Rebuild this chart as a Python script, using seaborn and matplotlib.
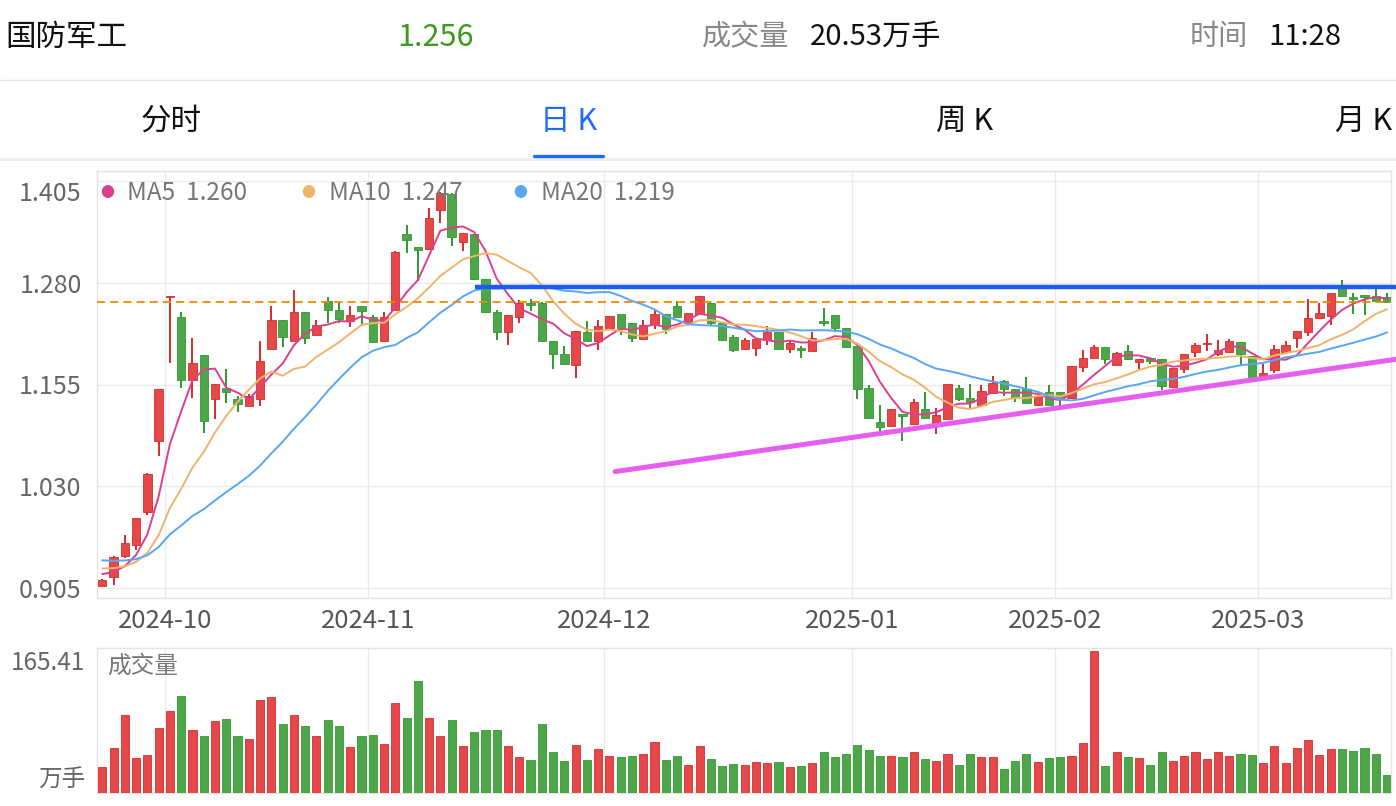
import numpy as np
import pandas as pd
import matplotlib
matplotlib.use("Agg")
import matplotlib.pyplot as plt
import seaborn as sns
from matplotlib.lines import Line2D

# daily K data, first candle = 2024-09-23
opens = [0.908, 0.918, 0.944, 0.958, 0.998, 1.086, 1.262, 1.238, 1.160, 1.191,
         1.137, 1.151, 1.137, 1.129, 1.137, 1.199, 1.234, 1.209, 1.244, 1.216,
         1.258, 1.246, 1.233, 1.251, 1.238, 1.208, 1.246, 1.340, 1.324, 1.321,
         1.369, 1.389, 1.330, 1.340, 1.285, 1.244, 1.219, 1.238, 1.255, 1.255,
         1.208, 1.193, 1.179, 1.220, 1.208, 1.224, 1.241, 1.231, 1.211, 1.229,
         1.242, 1.251, 1.231, 1.242, 1.255, 1.230, 1.213, 1.199, 1.200, 1.210,
         1.219, 1.199, 1.199, 1.196, 1.233, 1.241, 1.225, 1.202, 1.151, 1.109,
         1.104, 1.119, 1.106, 1.125, 1.107, 1.113, 1.151, 1.139, 1.130, 1.145,
         1.159, 1.150, 1.149, 1.130, 1.146, 1.146, 1.139, 1.176, 1.187, 1.201,
         1.179, 1.196, 1.183, 1.188, 1.186, 1.152, 1.174, 1.195, 1.205, 1.192,
         1.195, 1.207, 1.190, 1.163, 1.173, 1.195, 1.212, 1.219, 1.237, 1.239,
         1.274, 1.262, 1.265, 1.264, 1.262]
highs = [0.916, 0.944, 0.970, 0.991, 1.046, 1.149, 1.264, 1.244, 1.212, 1.191,
         1.156, 1.174, 1.141, 1.143, 1.208, 1.252, 1.234, 1.271, 1.244, 1.234,
         1.262, 1.255, 1.251, 1.251, 1.240, 1.244, 1.319, 1.351, 1.324, 1.372,
         1.392, 1.390, 1.341, 1.340, 1.285, 1.247, 1.240, 1.259, 1.260, 1.256,
         1.208, 1.202, 1.221, 1.233, 1.234, 1.239, 1.241, 1.231, 1.234, 1.246,
         1.242, 1.258, 1.243, 1.264, 1.255, 1.230, 1.216, 1.212, 1.211, 1.227,
         1.219, 1.210, 1.202, 1.219, 1.249, 1.241, 1.225, 1.202, 1.154, 1.130,
         1.125, 1.119, 1.137, 1.146, 1.126, 1.156, 1.154, 1.156, 1.155, 1.165,
         1.161, 1.150, 1.164, 1.141, 1.154, 1.146, 1.178, 1.197, 1.203, 1.201,
         1.195, 1.204, 1.186, 1.188, 1.186, 1.175, 1.193, 1.206, 1.217, 1.210,
         1.211, 1.207, 1.190, 1.180, 1.204, 1.208, 1.221, 1.260, 1.255, 1.268,
         1.284, 1.268, 1.265, 1.273, 1.268]
lows = [0.907, 0.909, 0.942, 0.952, 0.995, 1.067, 1.182, 1.151, 1.139, 1.095,
        1.113, 1.132, 1.121, 1.129, 1.129, 1.199, 1.201, 1.209, 1.205, 1.216,
        1.230, 1.230, 1.226, 1.227, 1.206, 1.208, 1.246, 1.316, 1.282, 1.321,
        1.354, 1.325, 1.319, 1.283, 1.243, 1.210, 1.203, 1.230, 1.245, 1.208,
        1.174, 1.180, 1.163, 1.209, 1.198, 1.224, 1.216, 1.207, 1.210, 1.223,
        1.217, 1.238, 1.231, 1.242, 1.227, 1.210, 1.195, 1.199, 1.190, 1.204,
        1.199, 1.194, 1.187, 1.196, 1.227, 1.219, 1.200, 1.137, 1.114, 1.098,
        1.104, 1.086, 1.106, 1.114, 1.094, 1.113, 1.135, 1.126, 1.128, 1.145,
        1.141, 1.133, 1.132, 1.130, 1.130, 1.129, 1.137, 1.170, 1.187, 1.180,
        1.179, 1.185, 1.174, 1.180, 1.148, 1.151, 1.169, 1.189, 1.196, 1.190,
        1.195, 1.178, 1.162, 1.163, 1.169, 1.195, 1.200, 1.214, 1.237, 1.228,
        1.264, 1.242, 1.240, 1.258, 1.256]
closes = [0.915, 0.943, 0.960, 0.991, 1.045, 1.149, 1.264, 1.161, 1.182, 1.110,
          1.156, 1.146, 1.131, 1.141, 1.184, 1.234, 1.213, 1.244, 1.212, 1.228,
          1.246, 1.235, 1.240, 1.245, 1.207, 1.238, 1.318, 1.333, 1.320, 1.359,
          1.390, 1.336, 1.341, 1.285, 1.244, 1.219, 1.240, 1.255, 1.253, 1.208,
          1.193, 1.180, 1.221, 1.209, 1.227, 1.239, 1.223, 1.212, 1.228, 1.242,
          1.223, 1.238, 1.243, 1.264, 1.230, 1.210, 1.197, 1.210, 1.211, 1.219,
          1.199, 1.206, 1.198, 1.212, 1.231, 1.225, 1.201, 1.149, 1.114, 1.103,
          1.125, 1.116, 1.133, 1.114, 1.117, 1.156, 1.137, 1.134, 1.147, 1.157,
          1.149, 1.139, 1.132, 1.141, 1.130, 1.137, 1.178, 1.188, 1.201, 1.186,
          1.194, 1.186, 1.186, 1.184, 1.153, 1.175, 1.193, 1.203, 1.206, 1.198,
          1.208, 1.193, 1.162, 1.169, 1.199, 1.204, 1.221, 1.237, 1.243, 1.268,
          1.264, 1.260, 1.263, 1.258, 1.256]
volumes = [30.0, 52.5, 91.5, 40.9, 44.0, 75.5, 95.4, 112.9, 73.9, 66.9,
           83.7, 86.4, 66.9, 63.4, 109.0, 112.1, 80.2, 91.5, 78.6, 66.2,
           85.6, 78.6, 53.3, 66.2, 68.1, 57.6, 105.1, 88.0, 130.8, 87.2,
           66.9, 85.6, 55.3, 70.8, 73.9, 73.2, 54.5, 42.0, 38.1, 81.0,
           48.3, 37.0, 56.4, 38.9, 51.8, 42.8, 41.6, 42.8, 45.9, 59.9,
           38.9, 43.6, 32.7, 54.5, 39.7, 31.1, 34.2, 32.7, 36.2, 34.6,
           35.8, 30.0, 31.1, 35.0, 48.3, 41.6, 45.9, 56.4, 49.8, 42.8,
           42.8, 41.6, 48.3, 39.7, 37.8, 45.1, 32.3, 45.5, 41.6, 42.0,
           28.0, 37.0, 45.9, 35.8, 40.5, 41.6, 42.8, 58.8, 165.41, 31.9,
           47.9, 41.6, 40.9, 32.3, 48.3, 37.8, 42.8, 47.5, 39.7, 48.3,
           42.8, 45.9, 44.4, 34.6, 55.3, 35.4, 52.9, 61.5, 44.0, 51.4,
           51.4, 48.6, 52.9, 45.1, 20.53]
# closes before the first visible day, only used to warm up the moving averages
pre_close = [0.955, 0.952, 0.958, 0.950, 0.947, 0.951, 0.945, 0.948, 0.942, 0.942,
             0.940, 0.938, 0.935, 0.934, 0.933, 0.929, 0.925, 0.922, 0.919]

month_ticks = [6, 24, 45, 67, 85, 103]
month_labels = ["2024-10", "2024-11", "2024-12", "2025-01", "2025-02", "2025-03"]
price_ticks = [0.905, 1.030, 1.155, 1.280, 1.405]
last_price = 1.256
resistance_x = [33.1, 114.8]
resistance_y = [1.275, 1.275]
support_x = [45.5, 114.8]
support_y = [1.048, 1.186]

RED = "#e54848"
GREEN = "#4fa64a"
RED_EDGE = "#d62c2c"
GREEN_EDGE = "#2f9a2f"
MA_COLORS = {5: "#de3f8c", 10: "#f0b36c", 20: "#58a6f4"}

sns.set_style("white")
plt.rcParams["font.family"] = ["Noto Sans CJK SC", "DejaVu Sans"]

W, H = 1396, 806
fig = plt.figure(figsize=(W / 100, H / 100), dpi=100)


def fx(x):
    return x / W


def fy(y):
    return 1 - y / H


ax = fig.add_axes([fx(97), fy(598), fx(1391) - fx(97), (598 - 171) / H])
axv = fig.add_axes([fx(97), fy(793), fx(1391) - fx(97), (793 - 648) / H])

df = pd.DataFrame({"open": opens, "high": highs, "low": lows,
                   "close": closes, "volume": volumes})
df["idx"] = np.arange(len(df))
all_close = pd.Series(pre_close + closes)
for n in (5, 10, 20):
    df[f"ma{n}"] = all_close.rolling(n).mean().iloc[len(pre_close):].to_numpy()

up = (df["close"] >= df["open"]).to_numpy()
face = np.where(up, RED, GREEN)
edge = np.where(up, RED_EDGE, GREEN_EDGE)

# candles
ax.vlines(df["idx"], df["low"], df["high"], colors=edge, lw=1.4, zorder=2)
body = (df["close"] - df["open"]).abs().clip(lower=0.0016)
ax.bar(df["idx"], body, bottom=np.minimum(df["open"], df["close"]), width=0.74,
       color=face, edgecolor=edge, linewidth=0.6, zorder=3)

# moving averages
for n, c in MA_COLORS.items():
    sns.lineplot(data=df, x="idx", y=f"ma{n}", ax=ax, color=c, lw=1.4, zorder=4)

# current price line and hand drawn lines
ax.axhline(last_price, color="#f08a00", lw=1.3, dashes=(4.5, 2.8), zorder=5)
ax.plot(resistance_x, resistance_y, color="#1c5cf5", lw=3.2,
        solid_capstyle="butt", clip_on=False, zorder=6)
ax.plot(support_x, support_y, color="#e55ef0", lw=3.6,
        solid_capstyle="round", clip_on=False, zorder=6)

grid_x = np.array(month_ticks) - 0.45
for a in (ax, axv):
    a.set_xlim(-0.47, 114.35)
    for s in a.spines.values():
        s.set_color("#e4e4e4")
        s.set_linewidth(1)
    for gx in grid_x:
        a.axvline(gx, color="#ebebeb", lw=1, zorder=0)
    a.set_xlabel("")
    a.set_ylabel("")

ax.set_ylim(0.8927, 1.4173)
for gy in price_ticks:
    ax.axhline(gy, color="#ebebeb", lw=1, zorder=0)
ax.set_yticks(price_ticks, [f"{v:.3f}" for v in price_ticks])
ax.set_xticks(grid_x, month_labels)
ax.tick_params(axis="y", length=0, pad=11, labelsize=18, labelcolor="#666666")
ax.tick_params(axis="x", length=0, pad=7, labelsize=18.5, labelcolor="#555555")
ax.get_yticklabels()[-1].set_va("top")

# volume
axv.bar(df["idx"], df["volume"], width=0.72, color=face, edgecolor=edge,
        linewidth=0.6, zorder=3)
axv.set_ylim(0, 169.3)
axv.set_xticks([])
axv.set_yticks([])

fig.text(fx(85), fy(663), f"{max(volumes):.2f}", fontsize=17.5, color="#666666",
         ha="right", va="center")
fig.text(fx(85), fy(780), "万手", fontsize=17, color="#666666", ha="right", va="center")
fig.text(fx(107), fy(666), "成交量", fontsize=17, color="#777777", ha="left", va="center")

# legend
leg_x = [(107, 127), (308, 329), (520, 541)]
for (dx, tx), n in zip(leg_x, (5, 10, 20)):
    fig.text(fx(dx), fy(193), "●", fontsize=10, color=MA_COLORS[n], ha="center", va="center")
    fig.text(fx(tx), fy(193), f"MA{n}  {df[f'ma{n}'].iloc[-1]:.3f}", fontsize=17.5,
             color="#777777", ha="left", va="center")

# header
fig.text(fx(5), fy(37), "国防军工", fontsize=22, color="#111111", ha="left", va="center")
fig.text(fx(436), fy(37), f"{last_price:.3f}", fontsize=22, color="#3d9a1c",
         ha="center", va="center")
fig.text(fx(702), fy(37), "成交量", fontsize=21, color="#888888", ha="left", va="center")
fig.text(fx(810), fy(37), f"{volumes[-1]:.2f}万手", fontsize=21, color="#111111",
         ha="left", va="center")
fig.text(fx(1190), fy(37), "时间", fontsize=21, color="#888888", ha="left", va="center")
fig.text(fx(1268), fy(37), "11:28", fontsize=21, color="#111111", ha="left", va="center")
fig.add_artist(Line2D([0, 1], [fy(80), fy(80)], transform=fig.transFigure,
                      color="#e6e6e6", lw=1))

tabs = [("分时", 171, "#111111"), ("日 K", 569, "#1f6bff"),
        ("周 K", 965, "#111111"), ("月 K", 1364, "#111111")]
for t, x, c in tabs:
    fig.text(fx(x), fy(121), t, fontsize=22, color=c, ha="center", va="center")
fig.add_artist(Line2D([0, 1], [fy(159), fy(159)], transform=fig.transFigure,
                      color="#eeeeee", lw=2.2))
fig.add_artist(Line2D([fx(534), fx(603)], [fy(156), fy(156)], transform=fig.transFigure,
                      color="#1f6bff", lw=2.4))

fig.savefig("out.png", dpi=100, facecolor="white")
